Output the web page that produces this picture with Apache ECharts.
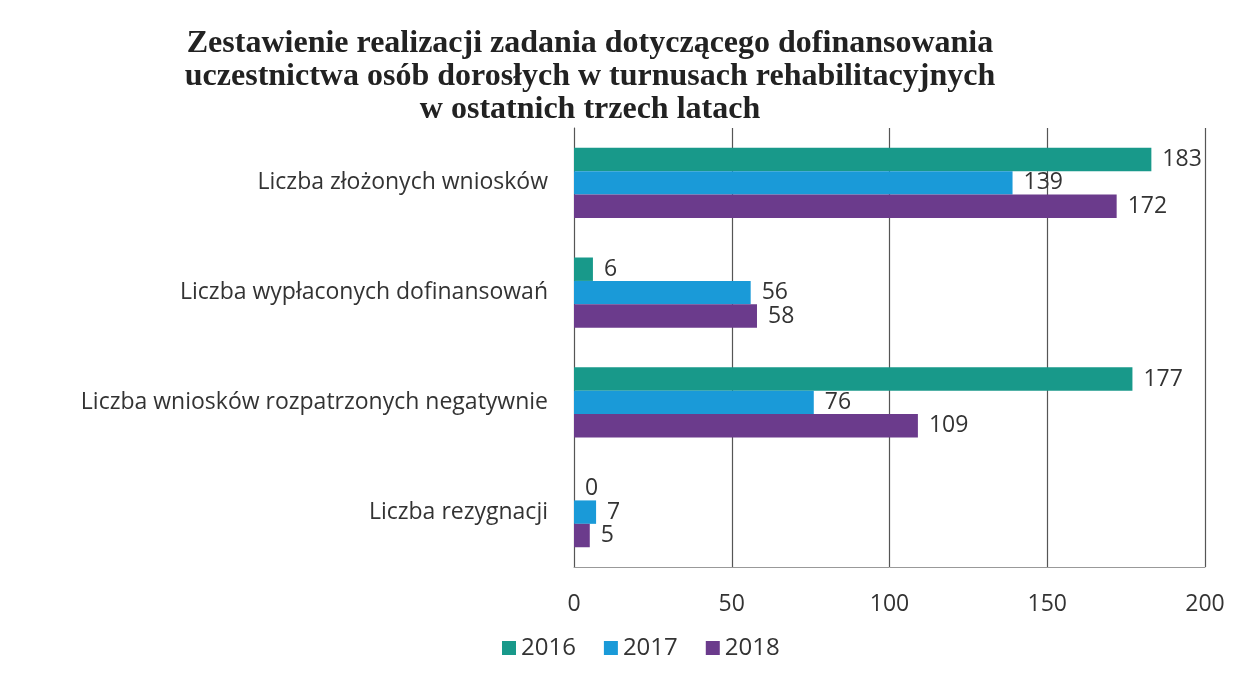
<!DOCTYPE html>
<html>
<head>
<meta charset="utf-8">
<script src="https://cdn.jsdelivr.net/npm/echarts@6/dist/echarts.min.js"></script>
<style>
  * { margin: 0; padding: 0; }
  html, body { background: #fff; }
  #chart { width: 1236px; height: 683px; }
</style>
</head>
<body>
<div id="chart"></div>
<script>
var categories = ['Liczba złożonych wniosków', 'Liczba wypłaconych dofinansowań', 'Liczba wniosków rozpatrzonych negatywnie', 'Liczba rezygnacji']
var years = ['2016', '2017', '2018']
var values2016 = [183, 6, 177, 0]
var values2017 = [139, 56, 76, 7]
var values2018 = [172, 58, 109, 5]
var xTicks = [0, 50, 100, 150, 200]

var colors = ['#18998a', '#1a9ad8', '#6b3b8c']

var chart = echarts.init(document.getElementById('chart'))

function makeSeries(name, data, color) {
  return {
    name: name,
    type: 'bar',
    data: data,
    barGap: '0%',
    barCategoryGap: '36%',
    itemStyle: { color: color },
    label: {
      show: true,
      position: 'right',
      distance: 11,
      color: '#333',
      fontSize: 23,
      fontFamily: 'Open Sans'
    }
  }
}

chart.setOption({
  animation: false,
  title: {
    text: 'Zestawienie realizacji zadania dotyczącego dofinansowania\nuczestnictwa osób dorosłych w turnusach rehabilitacyjnych\nw ostatnich trzech latach',
    left: 585,
    textAlign: 'center',
    top: 22,
    textStyle: {
      fontFamily: 'Liberation Serif',
      fontWeight: 'bold',
      fontSize: 32,
      lineHeight: 33,
      color: '#222'
    }
  },
  legend: {
    data: years,
    bottom: 18,
    left: 497,
    itemWidth: 14,
    itemHeight: 14,
    itemGap: 28,
    icon: 'rect',
    textStyle: { fontSize: 24, color: '#333', fontFamily: 'Open Sans' }
  },
  grid: { left: 574, right: 31, top: 128, bottom: 116 },
  xAxis: {
    type: 'value',
    min: 0,
    max: 200,
    interval: 50,
    axisLine: { show: true, lineStyle: { color: '#999' } },
    axisTick: { show: false },
    axisLabel: {
      fontSize: 23, color: '#333', margin: 26, fontFamily: 'Open Sans',
      formatter: function (v) { return xTicks.indexOf(v) >= 0 ? String(v) : '' }
    },
    splitLine: { show: true, lineStyle: { color: '#555', width: 1.2 } }
  },
  yAxis: {
    type: 'category',
    data: categories,
    inverse: true,
    axisLine: { show: true, lineStyle: { color: '#555' } },
    axisTick: { show: false },
    axisLabel: { fontSize: 23, color: '#333', margin: 26, fontFamily: 'Open Sans' }
  },
  series: [
    makeSeries(years[0], values2016, colors[0]),
    makeSeries(years[1], values2017, colors[1]),
    makeSeries(years[2], values2018, colors[2])
  ]
})
</script>
</body>
</html>
